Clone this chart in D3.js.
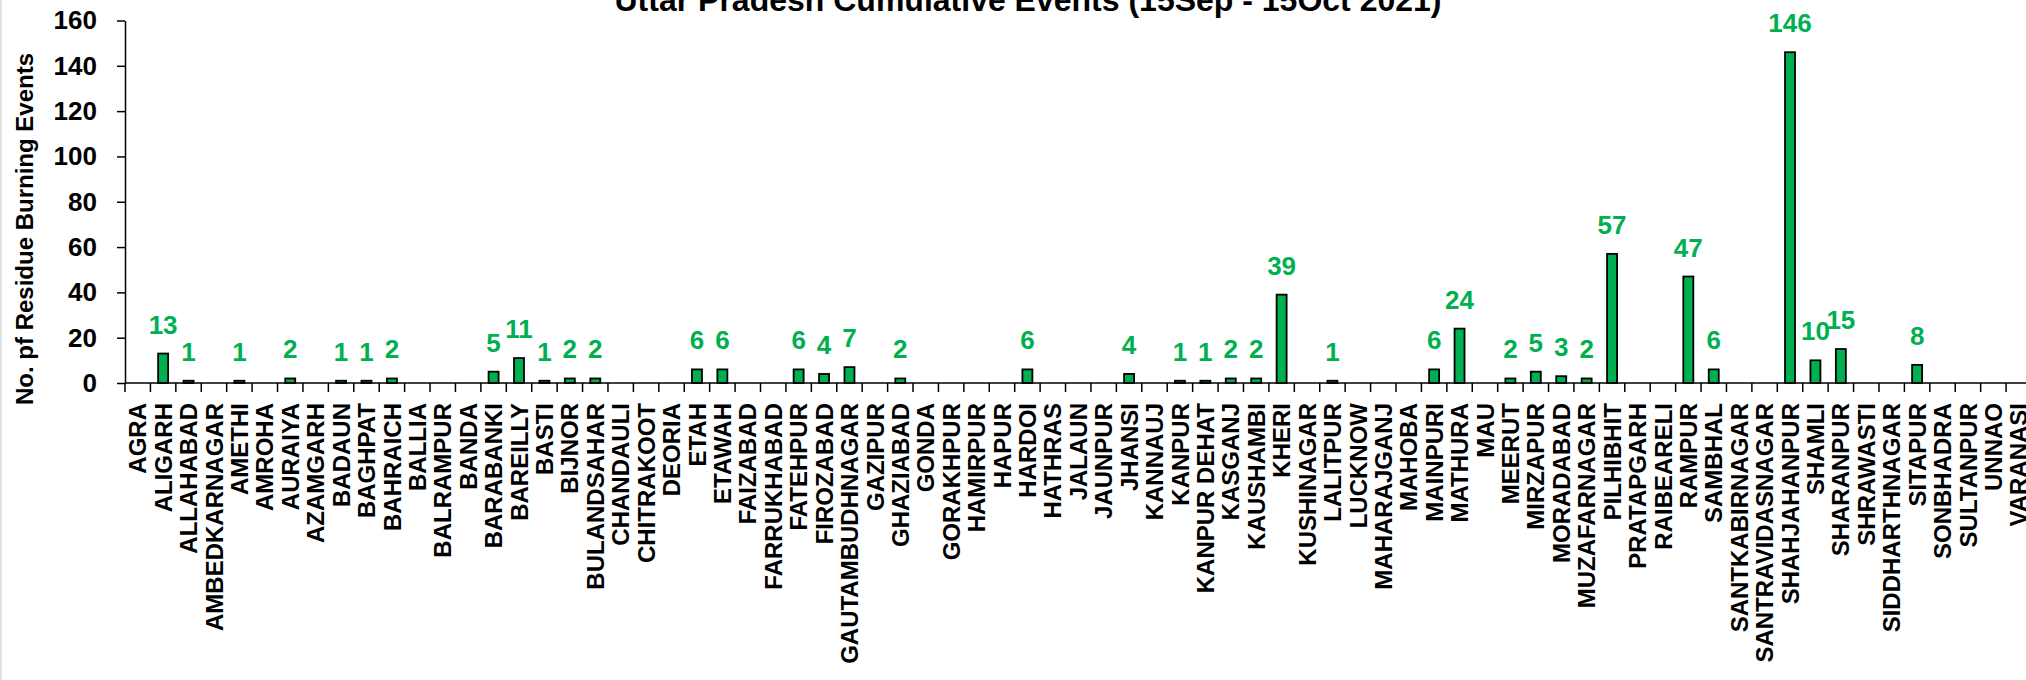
<!DOCTYPE html>
<html>
<head>
<meta charset="utf-8">
<script src="https://cdn.jsdelivr.net/npm/d3@7"></script>
<style>
  body { margin: 0; background: #fff; }
  svg text { font-family: "Liberation Sans", Arial, sans-serif; font-weight: bold; }
</style>
</head>
<body>
<div id="chart"></div>
<script>
const width = 2026;
const height = 680;

const districts = [
  "AGRA", "ALIGARH", "ALLAHABAD", "AMBEDKARNAGAR", "AMETHI", "AMROHA", "AURAIYA", "AZAMGARH",
  "BADAUN", "BAGHPAT", "BAHRAICH", "BALLIA", "BALRAMPUR", "BANDA", "BARABANKI", "BAREILLY",
  "BASTI", "BIJNOR", "BULANDSAHAR", "CHANDAULI", "CHITRAKOOT", "DEORIA", "ETAH", "ETAWAH",
  "FAIZABAD", "FARRUKHABAD", "FATEHPUR", "FIROZABAD", "GAUTAMBUDHNAGAR", "GAZIPUR", "GHAZIABAD",
  "GONDA", "GORAKHPUR", "HAMIRPUR", "HAPUR", "HARDOI", "HATHRAS", "JALAUN", "JAUNPUR", "JHANSI",
  "KANNAUJ", "KANPUR", "KANPUR DEHAT", "KASGANJ", "KAUSHAMBI", "KHERI", "KUSHINAGAR", "LALITPUR",
  "LUCKNOW", "MAHARAJGANJ", "MAHOBA", "MAINPURI", "MATHURA", "MAU", "MEERUT", "MIRZAPUR",
  "MORADABAD", "MUZAFARNAGAR", "PILHIBHIT", "PRATAPGARH", "RAIBEARELI", "RAMPUR", "SAMBHAL",
  "SANTKABIRNAGAR", "SANTRAVIDASNAGAR", "SHAHJAHANPUR", "SHAMLI", "SHARANPUR", "SHRAWASTI",
  "SIDDHARTHNAGAR", "SITAPUR", "SONBHADRA", "SULTANPUR", "UNNAO", "VARANASI"
];

const events = [
  0, 13, 1, 0, 1, 0, 2, 0,
  1, 1, 2, 0, 0, 0, 5, 11,
  1, 2, 2, 0, 0, 0, 6, 6,
  0, 0, 6, 4, 7, 0, 2,
  0, 0, 0, 0, 6, 0, 0, 0, 4,
  0, 1, 1, 2, 2, 39, 0, 1,
  0, 0, 0, 6, 24, 0, 2, 5,
  3, 2, 57, 0, 0, 47, 6,
  0, 0, 146, 10, 15, 0,
  0, 8, 0, 0, 0, 0
];

const yTicks = [0, 20, 40, 60, 80, 100, 120, 140, 160];

const title = "Uttar Pradesh Cumulative Events (15Sep - 15Oct 2021)";
const yTitle = "No. pf Residue Burning Events";

const data = districts.map((d, i) => ({ name: d, value: events[i] }));

const green = "#00B050";
const bandStep = 25.42;
const plotLeft = 125;

const svg = d3.select("#chart")
  .append("svg")
  .attr("width", width)
  .attr("height", height)
  .attr("viewBox", [0, 0, width, height]);

const x = d3.scaleBand()
  .domain(districts)
  .range([plotLeft, plotLeft + bandStep * districts.length]);

const y = d3.scaleLinear()
  .domain([0, 160])
  .range([383, 20.5]);

// chart area border on the left
svg.append("line")
  .attr("x1", 1).attr("x2", 1)
  .attr("y1", 0).attr("y2", height)
  .attr("stroke", "#d9d9d9")
  .attr("stroke-width", 1.5);

svg.append("text")
  .attr("x", 1028)
  .attr("y", 11)
  .attr("text-anchor", "middle")
  .attr("font-size", 32)
  .attr("fill", "#000")
  .text(title);

svg.append("text")
  .attr("transform", "translate(33,229) rotate(-90)")
  .attr("text-anchor", "middle")
  .attr("font-size", 24)
  .attr("fill", "#000")
  .text(yTitle);

// bars
const barW = 10;
svg.append("g")
  .selectAll("rect")
  .data(data.filter(d => d.value > 0))
  .join("rect")
  .attr("x", d => x(d.name) + (x.bandwidth() - barW) / 2)
  .attr("y", d => y(d.value))
  .attr("width", barW)
  .attr("height", d => y(0) - y(d.value))
  .attr("fill", green)
  .attr("stroke", "#000")
  .attr("stroke-width", 1.8);

// y axis
const yAxis = svg.append("g")
  .attr("transform", `translate(${plotLeft},0)`)
  .call(d3.axisLeft(y).tickValues(yTicks).tickSize(8).tickSizeOuter(0).tickPadding(20));

yAxis.attr("font-family", null).attr("font-size", null);
yAxis.select(".domain").attr("stroke", "#000").attr("stroke-width", 1.5);
yAxis.selectAll(".tick line").attr("stroke", "#000").attr("stroke-width", 1.5);
yAxis.selectAll(".tick text").attr("font-size", 26).attr("fill", "#000");

// x axis: baseline, boundary ticks, rotated labels
const xAxis = svg.append("g");

xAxis.append("line")
  .attr("x1", plotLeft)
  .attr("x2", x.range()[1])
  .attr("y1", y(0))
  .attr("y2", y(0))
  .attr("stroke", "#000")
  .attr("stroke-width", 1.5);

const boundaries = districts.map(d => x(d)).concat([x.range()[1]]);

xAxis.selectAll(".xtick")
  .data(boundaries)
  .join("line")
  .attr("class", "xtick")
  .attr("x1", d => d)
  .attr("x2", d => d)
  .attr("y1", y(0))
  .attr("y2", y(0) + 9)
  .attr("stroke", "#000")
  .attr("stroke-width", 1.5);

xAxis.selectAll(".xlabel")
  .data(districts)
  .join("text")
  .attr("class", "xlabel")
  .attr("transform", d => `translate(${x(d) + x.bandwidth() / 2},403) rotate(-90)`)
  .attr("dy", "0.36em")
  .attr("text-anchor", "end")
  .attr("font-size", 24)
  .attr("fill", "#000")
  .text(d => d);

// value labels
svg.append("g")
  .selectAll("text")
  .data(data.filter(d => d.value > 0))
  .join("text")
  .attr("x", d => x(d.name) + x.bandwidth() / 2)
  .attr("y", d => y(d.value) - 20)
  .attr("text-anchor", "middle")
  .attr("font-size", 26)
  .attr("fill", green)
  .text(d => d.value);
</script>
</body>
</html>
